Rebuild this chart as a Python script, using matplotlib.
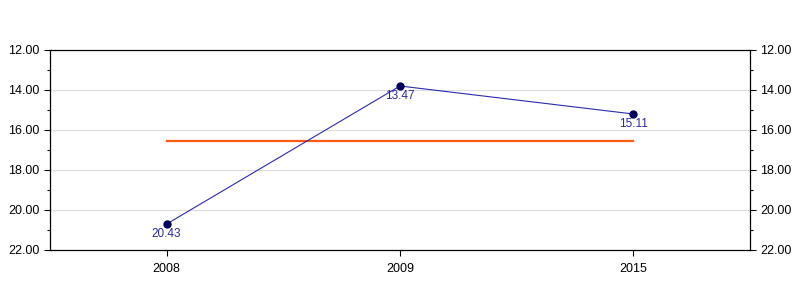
import matplotlib
matplotlib.use("Agg")
import matplotlib.pyplot as plt
import numpy as np
from matplotlib.ticker import MultipleLocator, FormatStrFormatter

plt.rcParams['font.family'] = ['Liberation Sans', 'DejaVu Sans']

categories = ["2008", "2009", "2015"]
values = [20.7, 13.8, 15.2]
point_labels = ["20.43", "13.47", "15.11"]
mean_value = float(np.mean(values))

fig = plt.figure(figsize=(8, 3), dpi=100)
ax = fig.add_axes([50/800, 50/300, 700/800, 200/300])

x = np.arange(len(categories))
ax.plot(x, values, color="#2b2bb0", lw=0.8, zorder=3)
ax.plot(x, values, 'o', color="#00005a", markersize=5, zorder=4)
ax.plot([x[0], x[-1]], [mean_value, mean_value], color="#ff5a14", lw=1.6, zorder=2)

for xi, v, lab in zip(x, values, point_labels):
    ax.annotate(lab, (xi, v), xytext=(0, -7.5), textcoords="offset points",
                ha="center", va="center", fontsize=8.5, color="#2a2aa0", zorder=5)

ax.set_xlim(-0.5, len(categories) - 0.5)
ax.set_ylim(22, 12)
ax.set_xticks(x)
ax.set_xticklabels(categories)
ax.yaxis.set_major_locator(MultipleLocator(2))
ax.yaxis.set_minor_locator(MultipleLocator(1))
ax.yaxis.set_major_formatter(FormatStrFormatter("%.2f"))
ax.tick_params(axis="y", which="both", left=True, right=True, labelleft=True, labelright=True,
               direction="out", labelsize=9, width=0.8)
ax.tick_params(axis="y", which="major", length=4)
ax.tick_params(axis="y", which="minor", length=2.5)
ax.tick_params(axis="x", direction="out", length=4, labelsize=9, width=0.8, pad=5)
ax.grid(axis="y", which="major", color="#dddddd", lw=0.8, zorder=0)
for s in ax.spines.values():
    s.set_linewidth(0.9)
    s.set_color("black")

fig.savefig("out.png", dpi=100)
